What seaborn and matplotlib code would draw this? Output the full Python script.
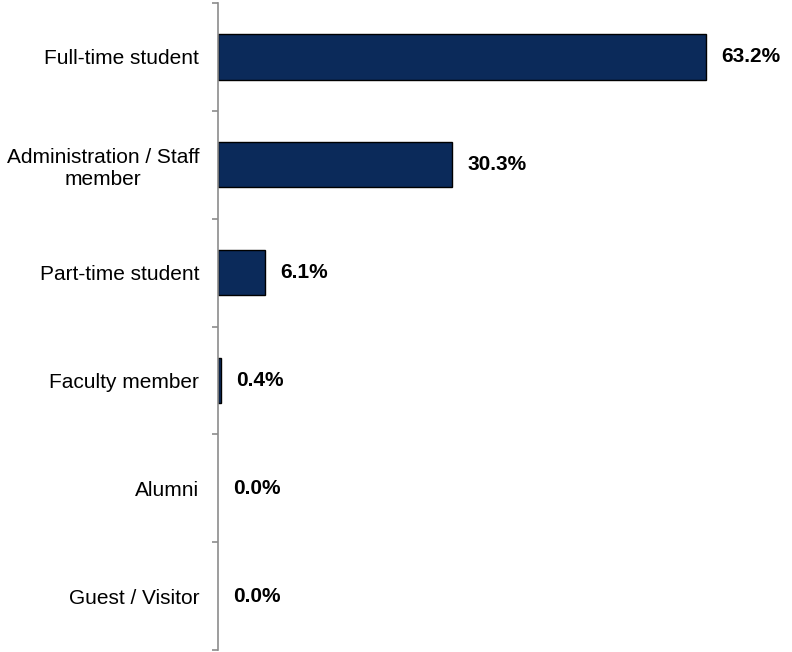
import matplotlib
matplotlib.use("Agg")
import matplotlib.pyplot as plt
import seaborn as sns
import pandas as pd
import numpy as np

categories = ["Full-time student", "Administration / Staff\nmember", "Part-time student",
              "Faculty member", "Alumni", "Guest / Visitor"]
shares = [63.2, 30.3, 6.1, 0.4, 0.0, 0.0]
value_labels = ["63.2%", "30.3%", "6.1%", "0.4%", "0.0%", "0.0%"]

sns.set_style("white")
plt.rcParams["font.family"] = ["Liberation Sans", "DejaVu Sans"]

df = pd.DataFrame({"category": categories, "share": shares})

fig = plt.figure(figsize=(7.92, 6.52), dpi=100)
ax = fig.add_axes([218 / 792, 1 - 650 / 652, 1 - 218 / 792, 647 / 652])

sns.barplot(data=df, y="category", x="share", orient="h", color="#0b2a5a",
            saturation=1, width=0.42, edgecolor="black", linewidth=1.0, ax=ax)

# empty categories get no outline
for patch in ax.patches:
    if patch.get_width() == 0:
        patch.set_linewidth(0)

ax.set_xlim(0, 74.4)
ax.set_ylim(len(categories) - 0.5, -0.5)
ax.set_xlabel("")
ax.set_ylabel("")
ax.set_xticks([])

for s in ["top", "right", "bottom"]:
    ax.spines[s].set_visible(False)
ax.spines["left"].set_color("#8c8c8c")
ax.spines["left"].set_linewidth(1.2)

ax.set_yticks(np.arange(len(categories)))
ax.set_yticklabels(categories, fontsize=15, color="black", ha="right",
                   multialignment="center")
ax.set_yticks(np.arange(-0.5, len(categories)), minor=True)
ax.tick_params(axis="y", which="major", left=True, length=0, pad=13.5)
ax.tick_params(axis="y", which="minor", left=True, length=4.3, width=1.2,
               color="#8c8c8c", direction="out")

for i, (v, txt) in enumerate(zip(shares, value_labels)):
    ax.annotate(txt, xy=(v, i), xytext=(11, 0), textcoords="offset points",
                va="center", ha="left", fontsize=15, fontweight="bold", color="black")

fig.savefig("out.png", dpi=100)
